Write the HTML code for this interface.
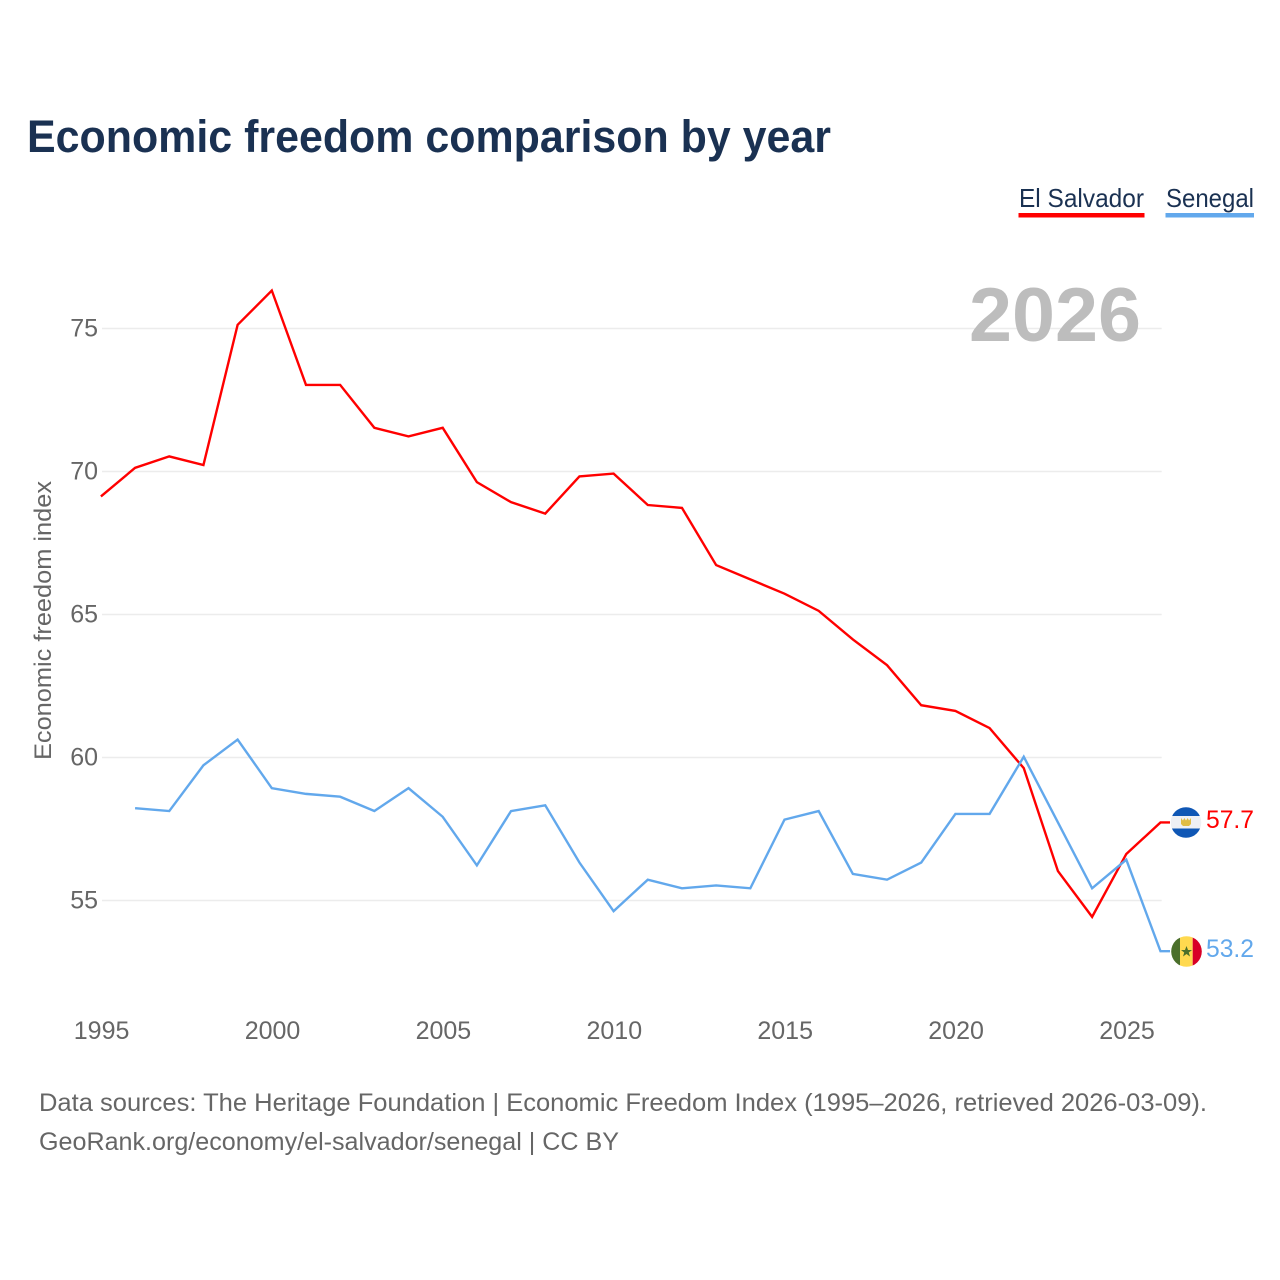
<!DOCTYPE html>
<html lang="en">
<head>
<meta charset="utf-8">
<title>Economic freedom comparison by year</title>
<style>
html,body{margin:0;padding:0;background:#fff;width:1280px;height:1280px;overflow:hidden}
svg{display:block}
text{font-family:"Liberation Sans",sans-serif}
</style>
</head>
<body>
<svg id="chart" xmlns="http://www.w3.org/2000/svg" width="1280" height="1280" viewBox="0 0 1280 1280">
  <text x="27" y="152" font-size="45" font-weight="700" fill="#1a3152" textLength="804" lengthAdjust="spacingAndGlyphs">Economic freedom comparison by year</text>

  <g>
    <text x="1019" y="207" font-size="26" fill="#1a3152" textLength="125" lengthAdjust="spacingAndGlyphs">El Salvador</text>
    <rect x="1018.5" y="213" width="126" height="4.5" fill="#ff0000"/>
  </g>
  <g>
    <text x="1166" y="207" font-size="26" fill="#1a3152" textLength="88" lengthAdjust="spacingAndGlyphs">Senegal</text>
    <rect x="1165.5" y="213" width="88.5" height="4.5" fill="#62a8ec"/>
  </g>

  <g id="grid"></g>
  <text x="969" y="341" font-size="76" font-weight="700" fill="#bdbdbd" textLength="172" lengthAdjust="spacingAndGlyphs">2026</text>
  <g id="y-axis"></g>
  <g id="x-axis"></g>
  <text transform="translate(51,760) rotate(-90)" x="0" y="0" font-size="24" fill="#666666" textLength="279" lengthAdjust="spacingAndGlyphs">Economic freedom index</text>

  <g id="series"></g>

  <defs>
    <clipPath id="flag-sv-clip"><circle cx="1186" cy="822.5" r="15.3"/></clipPath>
    <clipPath id="flag-sn-clip"><circle cx="1186.5" cy="951.5" r="15.3"/></clipPath>
  </defs>
  <g clip-path="url(#flag-sv-clip)">
    <rect x="1170" y="807" width="32" height="31" fill="#eef0f4"/>
    <rect x="1170" y="807" width="32" height="9" fill="#0f57b5"/>
    <rect x="1170" y="828.5" width="32" height="10" fill="#0f57b5"/>
    <polygon points="1181,818 1183,820.5 1184.3,818 1186,820.5 1187.7,818 1189,820.5 1191,818 1191,824 1189,826 1183,826 1181,824" fill="#e0bd45"/>
  </g>
  <g clip-path="url(#flag-sn-clip)">
    <rect x="1171" y="936" width="9" height="31" fill="#4b6f2b"/>
    <rect x="1180" y="936" width="12.7" height="31" fill="#ffd94f"/>
    <rect x="1192.7" y="936" width="10" height="31" fill="#d80027"/>
    <polygon points="1186.5,946 1188,950 1192,950 1188.8,952.5 1190,956.5 1186.5,954 1183,956.5 1184.2,952.5 1181,950 1185,950" fill="#4b6f2b"/>
  </g>
  <text id="label-sv" x="1206" y="828" font-size="25" fill="#ff0000" textLength="48" lengthAdjust="spacingAndGlyphs"></text>
  <text id="label-sn" x="1206" y="957" font-size="25" fill="#62a8ec" textLength="48" lengthAdjust="spacingAndGlyphs"></text>

  <text x="39" y="1111" font-size="25" fill="#666666" textLength="1168" lengthAdjust="spacingAndGlyphs">Data sources: The Heritage Foundation | Economic Freedom Index (1995–2026, retrieved 2026-03-09).</text>
  <text x="39" y="1150" font-size="25" fill="#666666" textLength="580" lengthAdjust="spacingAndGlyphs">GeoRank.org/economy/el-salvador/senegal | CC BY</text>
</svg>
<script>
const startYear = 1995;
const xTickLabels = [1995, 2000, 2005, 2010, 2015, 2020, 2025];
const yTickLabels = [55, 60, 65, 70, 75];
const elSalvadorValues = [69.1, 70.1, 70.5, 70.2, 75.1, 76.3, 73.0, 73.0, 71.5, 71.2, 71.5, 69.6, 68.9, 68.5, 69.8, 69.9, 68.8, 68.7, 66.7, 66.2, 65.7, 65.1, 64.1, 63.2, 61.8, 61.6, 61.0, 59.6, 56.0, 54.4, 56.6, 57.7];
const senegalValues = [null, 58.2, 58.1, 59.7, 60.6, 58.9, 58.7, 58.6, 58.1, 58.9, 57.9, 56.2, 58.1, 58.3, 56.3, 54.6, 55.7, 55.4, 55.5, 55.4, 57.8, 58.1, 55.9, 55.7, 56.3, 58.0, 58.0, 60.0, 57.7, 55.4, 56.4, 53.2];

const NS = 'http://www.w3.org/2000/svg';
const xScale = function (year) { return 101.6 + (year - 1995) * 34.18; };
const yScale = function (v) { return 757.5 - (v - 60) * 28.6; };
const lineOffsetX = -0.7;
const lineOffsetY = -0.8;
const plotRight = 1161.7;

const grid = document.getElementById('grid');
const yAxis = document.getElementById('y-axis');
const xAxis = document.getElementById('x-axis');
const seriesGroup = document.getElementById('series');

yTickLabels.forEach(function (t) {
  const line = document.createElementNS(NS, 'line');
  
  
  line.setAttribute('x1', 102);
  line.setAttribute('x2', plotRight);
  line.setAttribute('y1', yScale(t));
  line.setAttribute('y2', yScale(t));
  line.setAttribute('stroke', '#ececec');
  line.setAttribute('stroke-width', '1.5');
  grid.appendChild(line);

  const label = document.createElementNS(NS, 'text');
  
  
  label.setAttribute('x', 98);
  label.setAttribute('y', yScale(t) + 8);
  label.setAttribute('text-anchor', 'end');
  label.setAttribute('font-size', '25');
  label.setAttribute('fill', '#666666');
  label.textContent = t;
  yAxis.appendChild(label);
});

xTickLabels.forEach(function (t) {
  const label = document.createElementNS(NS, 'text');
  
  
  label.setAttribute('x', xScale(t));
  label.setAttribute('y', 1039);
  label.setAttribute('text-anchor', 'middle');
  label.setAttribute('font-size', '25');
  label.setAttribute('fill', '#666666');
  label.textContent = t;
  xAxis.appendChild(label);
});

function buildPath(values, endValue) {
  const pts = [];
  values.forEach(function (v, i) {
    if (v !== null) {
      pts.push((xScale(startYear + i) + lineOffsetX).toFixed(2) + ',' + (yScale(v) + lineOffsetY).toFixed(2));
    }
  });
  pts.push('1170,' + (yScale(endValue) + lineOffsetY).toFixed(2));
  return pts.join(' ');
}

const lineSv = document.createElementNS(NS, 'polyline');


lineSv.setAttribute('points', buildPath(elSalvadorValues, elSalvadorValues[elSalvadorValues.length - 1]));
lineSv.setAttribute('fill', 'none');
lineSv.setAttribute('stroke', '#ff0000');
lineSv.setAttribute('stroke-width', '2.4');
seriesGroup.appendChild(lineSv);

const lineSn = document.createElementNS(NS, 'polyline');


lineSn.setAttribute('points', buildPath(senegalValues, senegalValues[senegalValues.length - 1]));
lineSn.setAttribute('fill', 'none');
lineSn.setAttribute('stroke', '#62a8ec');
lineSn.setAttribute('stroke-width', '2.4');
seriesGroup.appendChild(lineSn);

document.getElementById('label-sv').textContent = elSalvadorValues[elSalvadorValues.length - 1].toFixed(1);
document.getElementById('label-sn').textContent = senegalValues[senegalValues.length - 1].toFixed(1);
</script>
</body>
</html>
